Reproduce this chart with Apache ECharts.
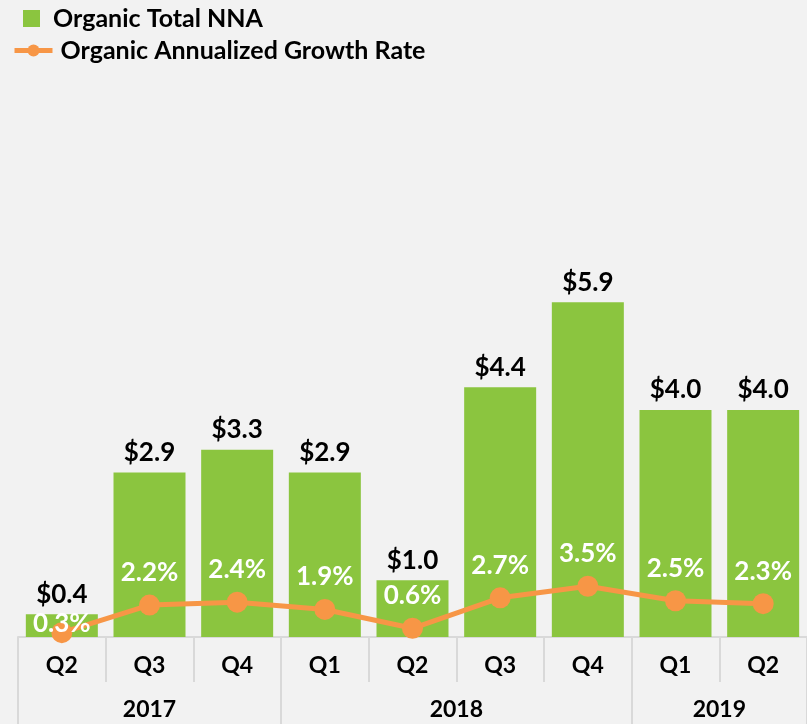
<!DOCTYPE html>
<html lang="en">
<head>
    <meta charset="UTF-8">
    <title>Organic NNA</title>
    <script src="https://cdn.jsdelivr.net/npm/echarts@6.0.0/dist/echarts.min.js"></script>
    <style>
        html, body { margin: 0; padding: 0; background: #f2f2f2; }
        #chart { width: 807px; height: 724px; }
    </style>
</head>
<body>
    <div id="chart"></div>
    <script>
        // data
        var quarters = ['Q2', 'Q3', 'Q4', 'Q1', 'Q2', 'Q3', 'Q4', 'Q1', 'Q2'];
        var quarterYears = ['2017', '2017', '2017', '2018', '2018', '2018', '2018', '2019', '2019'];
        var nna = [0.4, 2.9, 3.3, 2.9, 1.0, 4.4, 5.9, 4.0, 4.0];
        var growth = [0.3, 2.2, 2.4, 1.9, 0.6, 2.7, 3.5, 2.5, 2.3];

        // group the quarters by year for the second label row
        var yearNames = [], yearStarts = [];
        quarterYears.forEach(function (y, i) {
            if (y !== yearNames[yearNames.length - 1]) {
                yearNames.push(y);
                yearStarts.push(i);
            }
        });
        var yearBounds = yearStarts.concat([quarters.length]);
        var yearCenters = yearNames.map(function (n, k) {
            return (yearBounds[k] + yearBounds[k + 1]) / 2;
        });

        var font = 'Lato';
        var grey = '#d9d9d9';

        // the first growth label sits low, inside the small bar
        var growthData = growth.map(function (v, i) {
            if (i === 0) {
                return { value: v, label: { position: 'top', distance: -14 } };
            }
            return v;
        });

        var chart = echarts.init(document.getElementById('chart'));
        var option = {
            backgroundColor: '#f2f2f2',
            animation: false,
            legend: [
                {
                    left: 18, top: 1,
                    icon: 'rect',
                    itemWidth: 17, itemHeight: 17,
                    data: ['Organic Total NNA'],
                    textStyle: { fontFamily: font, fontWeight: 'bold', fontSize: 25, color: '#000', padding: [0, 0, 0, 8] }
                },
                {
                    left: 7, top: 33,
                    itemWidth: 38, itemHeight: 15,
                    data: ['Organic Annualized Growth Rate'],
                    lineStyle: { width: 5 },
                    textStyle: { fontFamily: font, fontWeight: 'bold', fontSize: 25, color: '#000', padding: [0, 0, 0, 3] }
                }
            ],
            grid: { left: 18, top: 183, width: 796, height: 454, containLabel: false },
            xAxis: [
                {
                    type: 'category',
                    data: quarters,
                    position: 'bottom',
                    axisLine: { lineStyle: { color: grey, width: 2 } },
                    axisTick: { show: true, length: 45, lineStyle: { color: grey, width: 2 } },
                    axisLabel: { margin: 17, fontFamily: font, fontWeight: 'bold', fontSize: 23, color: '#000' }
                },
                {
                    type: 'value',
                    min: 0,
                    max: quarters.length,
                    position: 'bottom',
                    axisLine: { show: false },
                    splitLine: { show: false },
                    axisTick: { show: true, length: 87, customValues: yearBounds, lineStyle: { color: grey, width: 2 } },
                    axisLabel: {
                        customValues: yearCenters,
                        margin: 61,
                        fontFamily: font, fontWeight: 'bold', fontSize: 23, color: '#000',
                        formatter: function (v) { return yearNames[yearCenters.indexOf(v)]; }
                    }
                }
            ],
            yAxis: [
                { type: 'value', min: 0, max: 8, show: false },
                { type: 'value', min: 0, max: 31.3, show: false }
            ],
            series: [
                {
                    name: 'Organic Total NNA',
                    type: 'bar',
                    data: nna,
                    barWidth: 72,
                    itemStyle: { color: '#8bc53f' },
                    label: {
                        show: true, position: 'top', distance: 7,
                        fontFamily: font, fontWeight: 'bold', fontSize: 26, color: '#000',
                        formatter: function (p) { return '$' + p.value.toFixed(1); }
                    }
                },
                {
                    name: 'Organic Annualized Growth Rate',
                    type: 'line',
                    yAxisIndex: 1,
                    data: growthData,
                    symbol: 'circle',
                    symbolSize: 21,
                    itemStyle: { color: '#f79646' },
                    lineStyle: { color: '#f79646', width: 5 },
                    label: {
                        show: true, position: 'top', distance: 9,
                        fontFamily: font, fontWeight: 'bold', fontSize: 26, color: '#fff',
                        formatter: function (p) { return p.value.toFixed(1) + '%'; }
                    },
                    z: 3
                }
            ]
        };
        chart.setOption(option);
    </script>
</body>
</html>
